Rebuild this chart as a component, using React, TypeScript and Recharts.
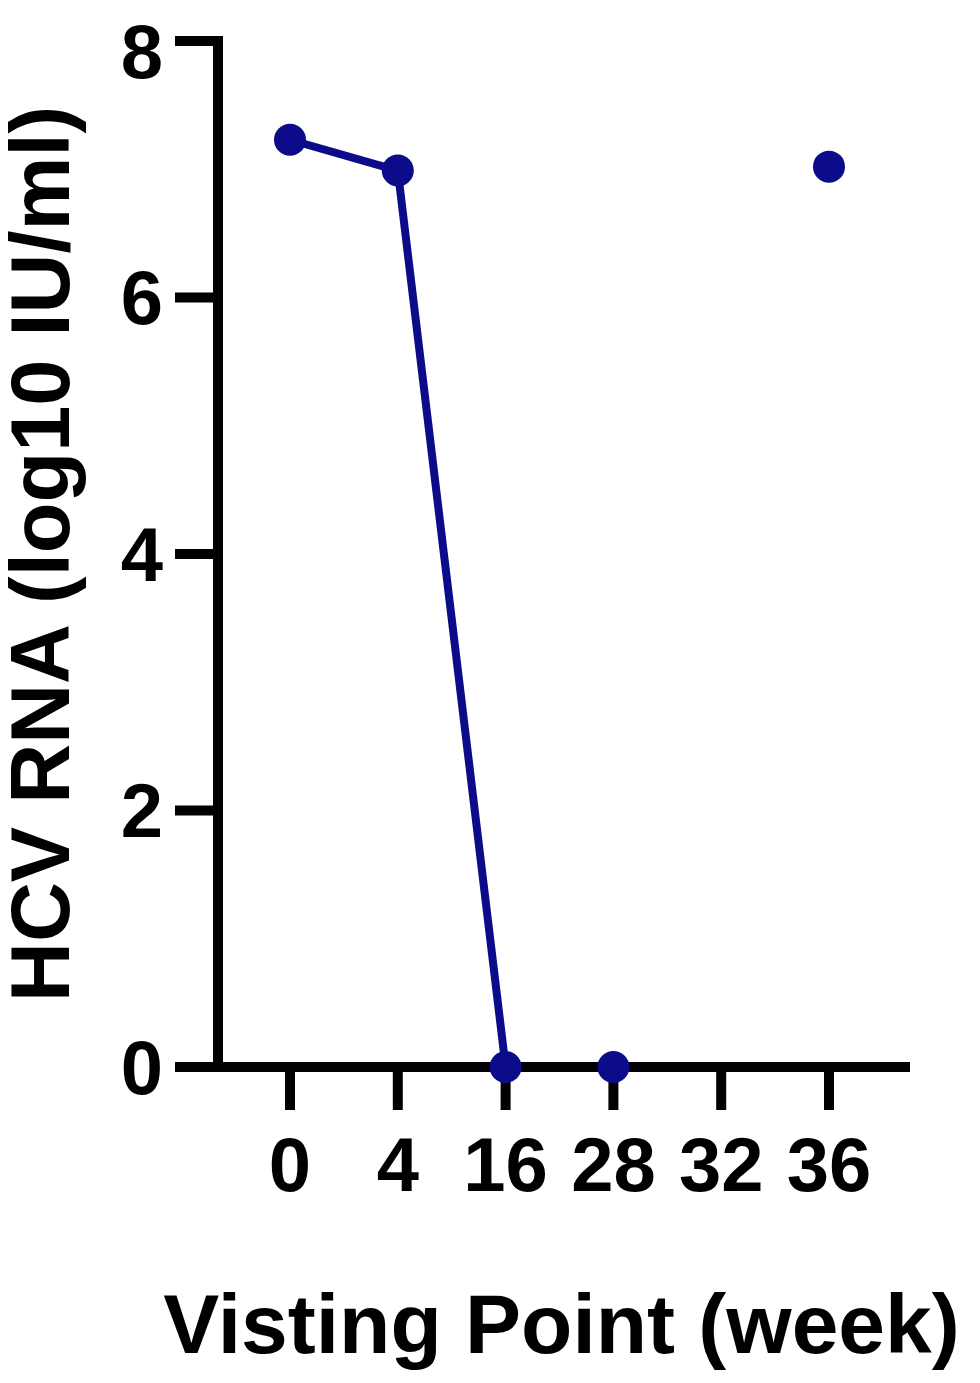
import React from 'react';
import { Label, Line, LineChart, XAxis, YAxis } from 'recharts';

// visiting weeks (categorical) and HCV RNA in log10 IU/ml
const weeks = ['0', '4', '16', '28', '32', '36'];
const rnaLog10 = [7.23, 6.99, 0, 0, null, 7.02];
const yTicks = [0, 2, 4, 6, 8];

const chartData = weeks.map((week, i) => ({ week, rna: rnaLog10[i] }));

const NAVY = '#0c0c8a';
const FONT = '"Liberation Sans", Arial, sans-serif';

const tickStyle = {
  fill: '#000',
  fontFamily: FONT,
  fontWeight: 700,
  fontSize: 76,
};

const axisLine = { stroke: '#000', strokeWidth: 10, strokeLinecap: 'square' as const };
const tickLine = { stroke: '#000', strokeWidth: 10 };

const YTitle = (props: any) => {
  const { viewBox } = props;
  const x = viewBox.x + 61;
  const y = viewBox.y + viewBox.height / 2;
  return (
    <g transform={`translate(${x}, ${y}) rotate(-90)`}>
      <text
        x={0}
        y={0}
        textAnchor='middle'
        fill='#000'
        fontFamily={FONT}
        fontWeight={700}
        fontSize={83}
      >
        HCV RNA (log10 IU/ml)
      </text>
    </g>
  );
};

const App = () => {
  return (
    <LineChart
      width={964}
      height={1367}
      data={chartData}
      margin={{ top: 33, right: 67, left: 0, bottom: 0 }}
    >
      <XAxis
        dataKey='week'
        type='category'
        height={308}
        padding={{ left: 72, right: 76 }}
        axisLine={axisLine}
        tickLine={tickLine}
        tickSize={43}
        tickMargin={27}
        tick={tickStyle}
        interval={0}
      >
        <Label
          value='Visting Point (week)'
          position='insideBottom'
          offset={22}
          fill='#000'
          fontFamily={FONT}
          fontWeight={700}
          fontSize={84}
        />
      </XAxis>
      <YAxis
        width={210}
        domain={[0, 8]}
        ticks={yTicks}
        axisLine={axisLine}
        tickLine={tickLine}
        tickSize={43}
        tickMargin={12}
        tick={tickStyle}
        label={<YTitle />}
      />
      <Line
        type='linear'
        dataKey='rna'
        stroke={NAVY}
        strokeWidth={8}
        dot={{ r: 16, fill: NAVY, stroke: NAVY, strokeWidth: 0 }}
        activeDot={false}
        connectNulls={false}
        isAnimationActive={false}
      />
    </LineChart>
  );
};

export default App;
